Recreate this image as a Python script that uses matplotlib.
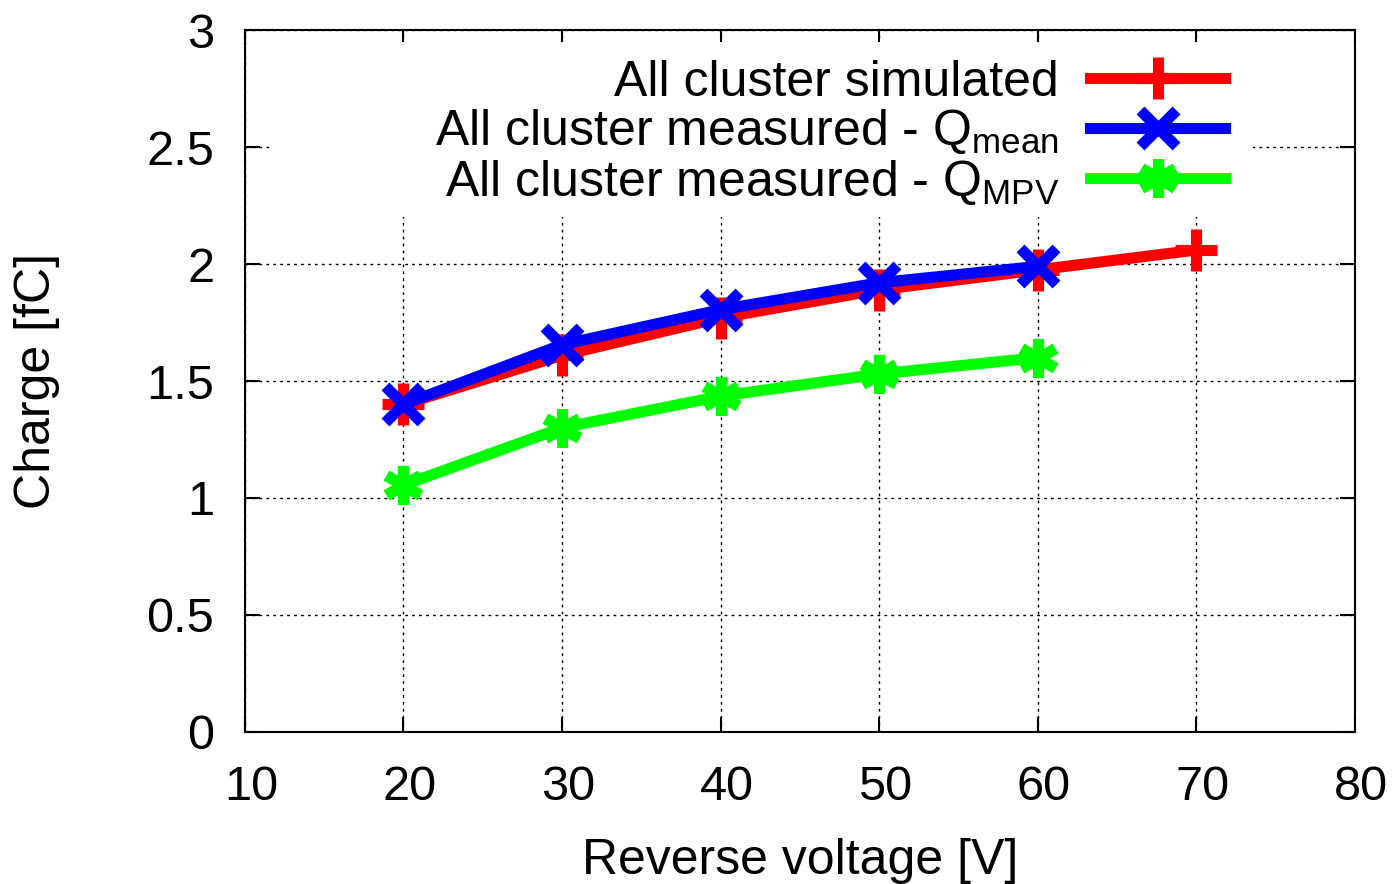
import matplotlib
matplotlib.use("Agg")
import matplotlib.pyplot as plt
import matplotlib.transforms as mtransforms
from matplotlib.patches import Rectangle

plt.rcParams['font.family'] = ['Liberation Sans', 'DejaVu Sans']
plt.rcParams['mathtext.fontset'] = 'custom'
plt.rcParams['mathtext.rm'] = 'Liberation Sans'

# Daten
voltage_sim = [20, 30, 40, 50, 60, 70]
charge_sim = [1.40, 1.61, 1.77, 1.89, 1.975, 2.06]

voltage_meas = [20, 30, 40, 50, 60]
charge_mean = [1.40, 1.655, 1.805, 1.92, 1.99]
charge_mpv = [1.055, 1.30, 1.435, 1.53, 1.60]

labels = [
    "All cluster simulated",
    r"All cluster measured - $\mathregular{Q_{mean}}$",
    r"All cluster measured - $\mathregular{Q_{MPV}}$",
]

fig = plt.figure(figsize=(13.99, 8.84), dpi=100)
ax = fig.add_axes([0.175, 0.172, 0.7936, 0.794])

ax.plot(voltage_sim, charge_sim, color='#ff0000', lw=8, marker='+', ms=30, mew=8,
        label=labels[0], zorder=3)
ax.plot(voltage_meas, charge_mean, color='#0000ff', lw=8, marker='x', ms=26, mew=8,
        label=labels[1], zorder=3)
ax.plot(voltage_meas, charge_mpv, color='#00ff00', lw=8, marker=(6, 2, 0), ms=28, mew=8,
        label=labels[2], zorder=3)

ax.set_xlim(10, 80)
ax.set_ylim(0, 3)
ax.set_xticks([10, 20, 30, 40, 50, 60, 70, 80])
ax.set_yticks([0, 0.5, 1, 1.5, 2, 2.5, 3])
ax.set_yticklabels(['0', '0.5', '1', '1.5', '2', '2.5', '3'])
ax.tick_params(direction='in', length=11, width=1.5, top=True, right=True,
               labelsize=35)
ax.tick_params(axis='y', pad=22)
ax.tick_params(axis='x', pad=24)
ax.grid(True, color='black', linestyle=(0, (2, 3)), linewidth=1, zorder=1)
ax.set_axisbelow(True)
for s in ax.spines.values():
    s.set_linewidth(1.5)

# X-Beschriftungen leicht nach rechts versetzt
shift = mtransforms.ScaledTranslation(6 / 100, 0, fig.dpi_scale_trans)
for lbl in ax.get_xticklabels():
    lbl.set_transform(lbl.get_transform() + shift)

ax.set_xlabel('Reverse voltage [V]', fontsize=36, labelpad=20)
ax.set_ylabel('Charge [fC]', fontsize=36, labelpad=62)

# weisser Hintergrund der Legende
ax.add_patch(Rectangle((0.024, 0.734), 0.884, 0.249, transform=ax.transAxes,
                       facecolor='white', edgecolor='none', zorder=2))

leg = ax.legend(loc='upper right', bbox_to_anchor=(0.883, 0.958), markerfirst=False,
                fontsize=36, handlelength=2.7, handletextpad=0.62, labelspacing=0.03,
                frameon=False, borderpad=0, borderaxespad=0)
for t in leg.get_texts():
    t.set_ha('right')

fig.savefig('out.png', dpi=100)
